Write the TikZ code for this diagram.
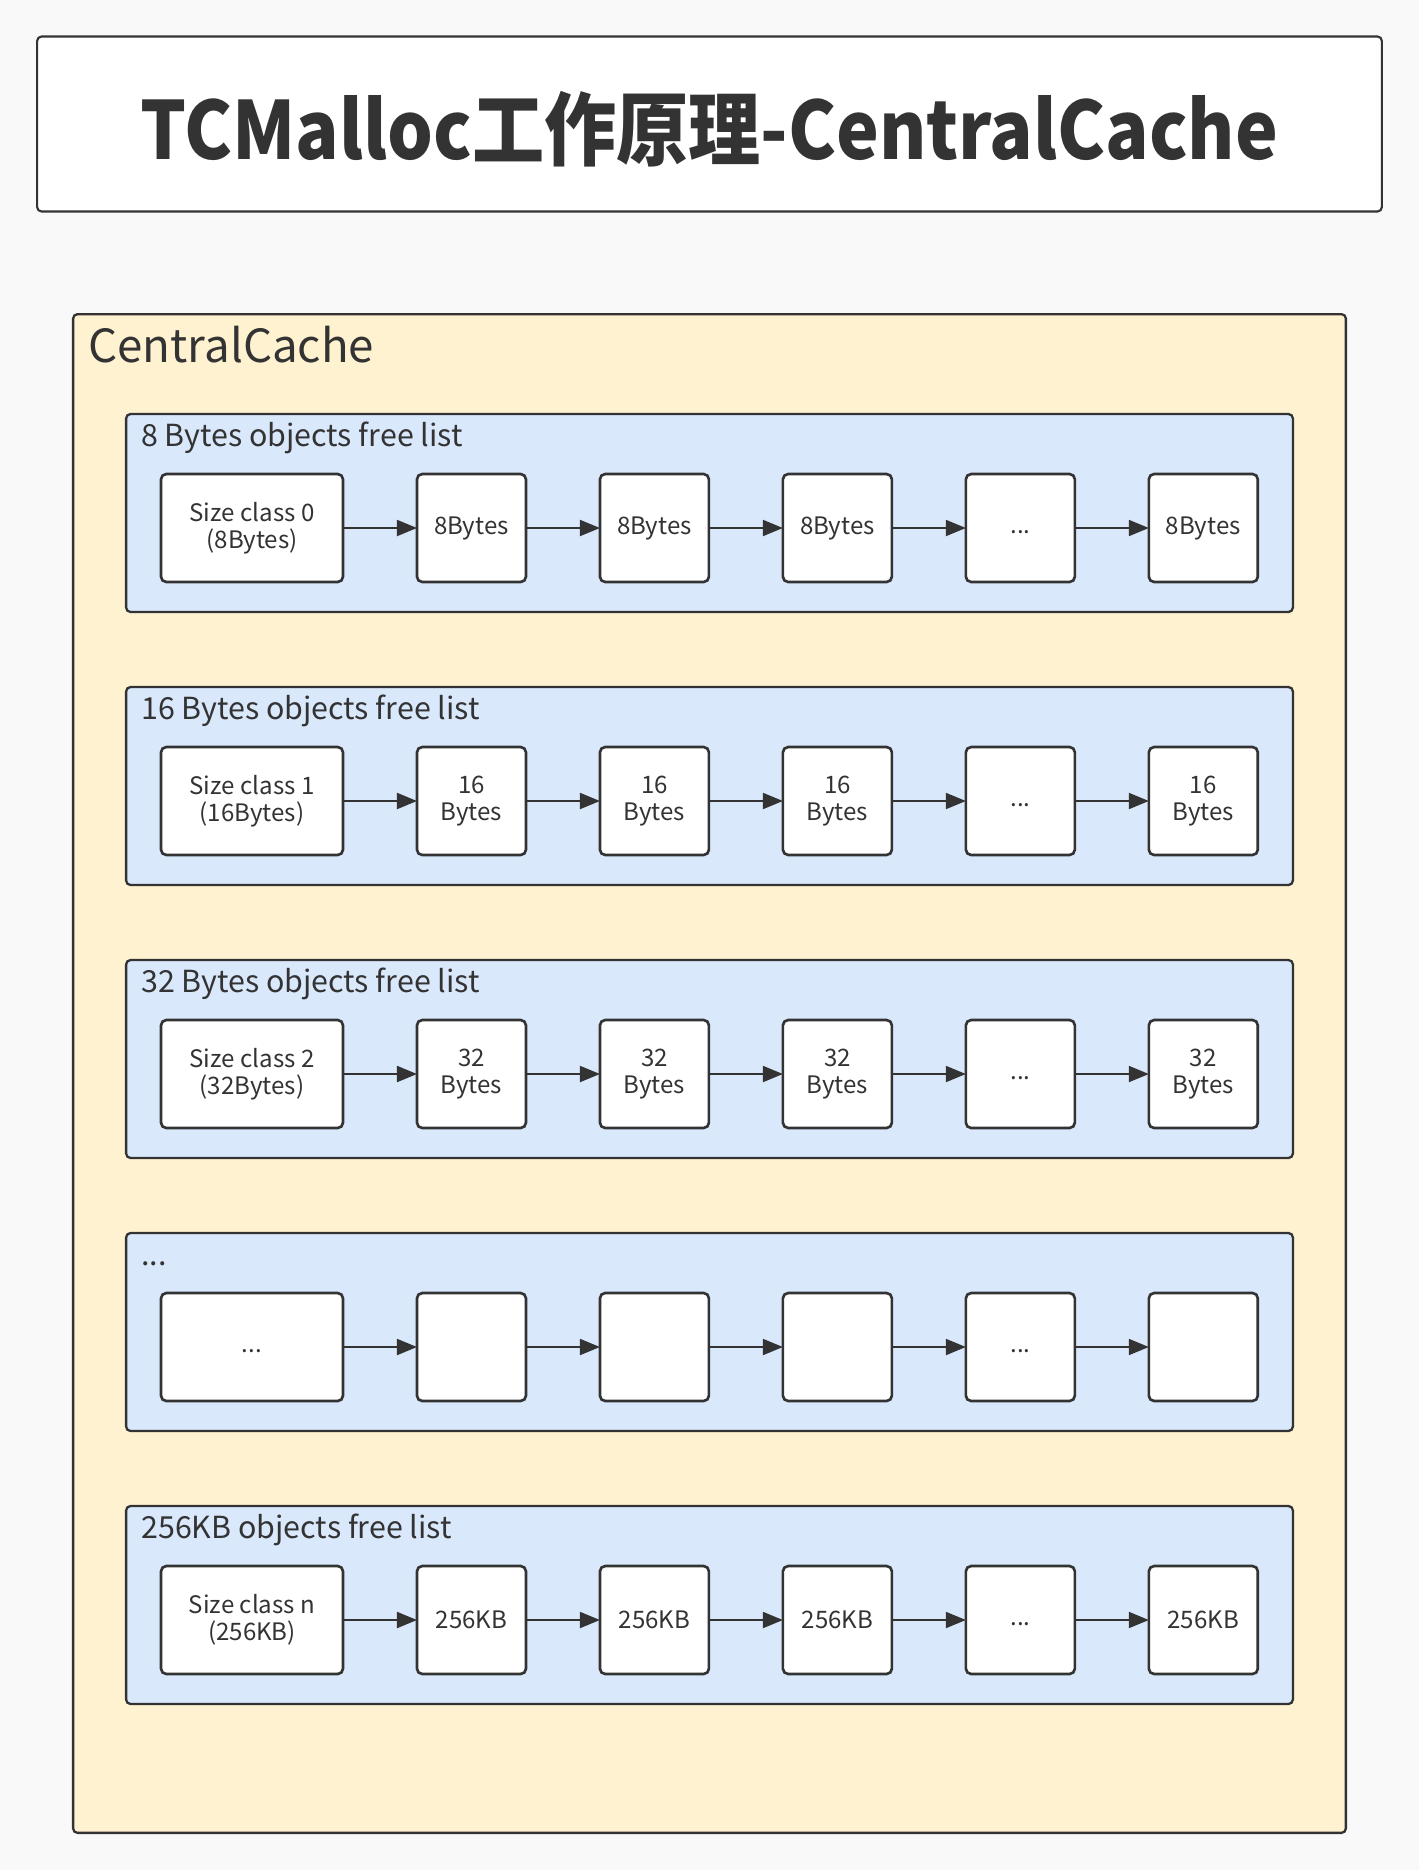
\documentclass[tikz,border=0pt]{standalone}
\usepackage{fontspec}
\setmainfont{Noto Sans CJK SC}
\newfontfamily\titlefont[FakeStretch=0.9]{Noto Sans CJK SC}
\usetikzlibrary{arrows.meta,positioning}
\definecolor{inkgray}{HTML}{333333}
\definecolor{pagegray}{HTML}{F9F9F9}
\definecolor{cacheyellow}{HTML}{FFF2D1}
\definecolor{listblue}{HTML}{DAE8FC}

\tikzset{
    titlebox/.style={draw=inkgray,line width=1.2pt,fill=white,rounded corners=2.5pt,
        minimum width=26.9cm,minimum height=3.5cm},
    titletext/.style={anchor=base,inner sep=0pt,text=inkgray,
        font=\titlefont\fontsize{45.6}{50}\selectfont\bfseries},
    cachebox/.style={draw=inkgray,line width=1.3pt,fill=cacheyellow,rounded corners=2.5pt,
        minimum width=25.46cm,minimum height=30.38cm},
    listbox/.style={draw=inkgray,line width=1.3pt,fill=listblue,rounded corners=2.5pt,
        minimum width=23.34cm,minimum height=3.96cm},
    headtext/.style={anchor=base west,inner sep=0pt,text=inkgray},
    cellbox/.style={draw=inkgray,line width=1.5pt,fill=white,rounded corners=3pt,
        outer sep=0pt,minimum height=2.16cm,align=center,text=inkgray,
        font=\fontsize{13.7}{15.5}\selectfont},
    classbox/.style={cellbox,minimum width=3.64cm},
    itembox/.style={cellbox,minimum width=2.18cm},
    link/.style={draw=inkgray,line width=1.1pt,-{Triangle[length=0.4cm,width=0.32cm]}}
}

\begin{document}
\begin{tikzpicture}[x=0.02cm,y=-0.02cm,node distance=1.48cm]
    % page
    \fill[pagegray] (0,0) rectangle (1419,1870);
    \useasboundingbox (0,0) rectangle (1419,1870);

    % title
    \node[titlebox] (title) at (709.5,124) {};
    \node[titletext] (titlelabel) at (709.5,159) {TCMalloc工作原理-CentralCache};

    % central cache
    \node[cachebox] (cache) at (709.5,1073.5) {};
    \node[headtext,font=\fontsize{26}{30}\selectfont]
        at ([xshift=0.32cm,yshift=-0.98cm]cache.north west) {CentralCache};

    % free lists
    \foreach \r/\ytop/\head/\cls/\cell in {
        0/414/{8 Bytes objects free list}/{Size class 0\\(8Bytes)}/{8Bytes},
        1/687/{16 Bytes objects free list}/{Size class 1\\(16Bytes)}/{16\\Bytes},
        2/960/{32 Bytes objects free list}/{Size class 2\\(32Bytes)}/{32\\Bytes},
        3/1233/{...}/{\strut...}/{},
        4/1506/{256KB objects free list}/{Size class n\\(256KB)}/{256KB}}
    {
        \node[listbox] (list\r) at (709.5,\ytop+99) {};
        \node[headtext,font=\fontsize{17.3}{20}\selectfont]
            at ([xshift=0.32cm,yshift=-0.68cm]list\r.north west) {\head};

        \node[classbox] (cls\r) at (252,\ytop+114) {\cls};
        \node[itembox,right=of cls\r] (obj\r a) {\cell};
        \node[itembox,right=of obj\r a] (obj\r b) {\cell};
        \node[itembox,right=of obj\r b] (obj\r c) {\cell};
        \node[itembox,right=of obj\r c] (obj\r d) {\strut...};
        \node[itembox,right=of obj\r d] (obj\r e) {\cell};

        \foreach \p/\q in {cls\r/obj\r a,obj\r a/obj\r b,obj\r b/obj\r c,
                           obj\r c/obj\r d,obj\r d/obj\r e}
            \draw[link] (\p) -- (\q);
    }
\end{tikzpicture}
\end{document}
